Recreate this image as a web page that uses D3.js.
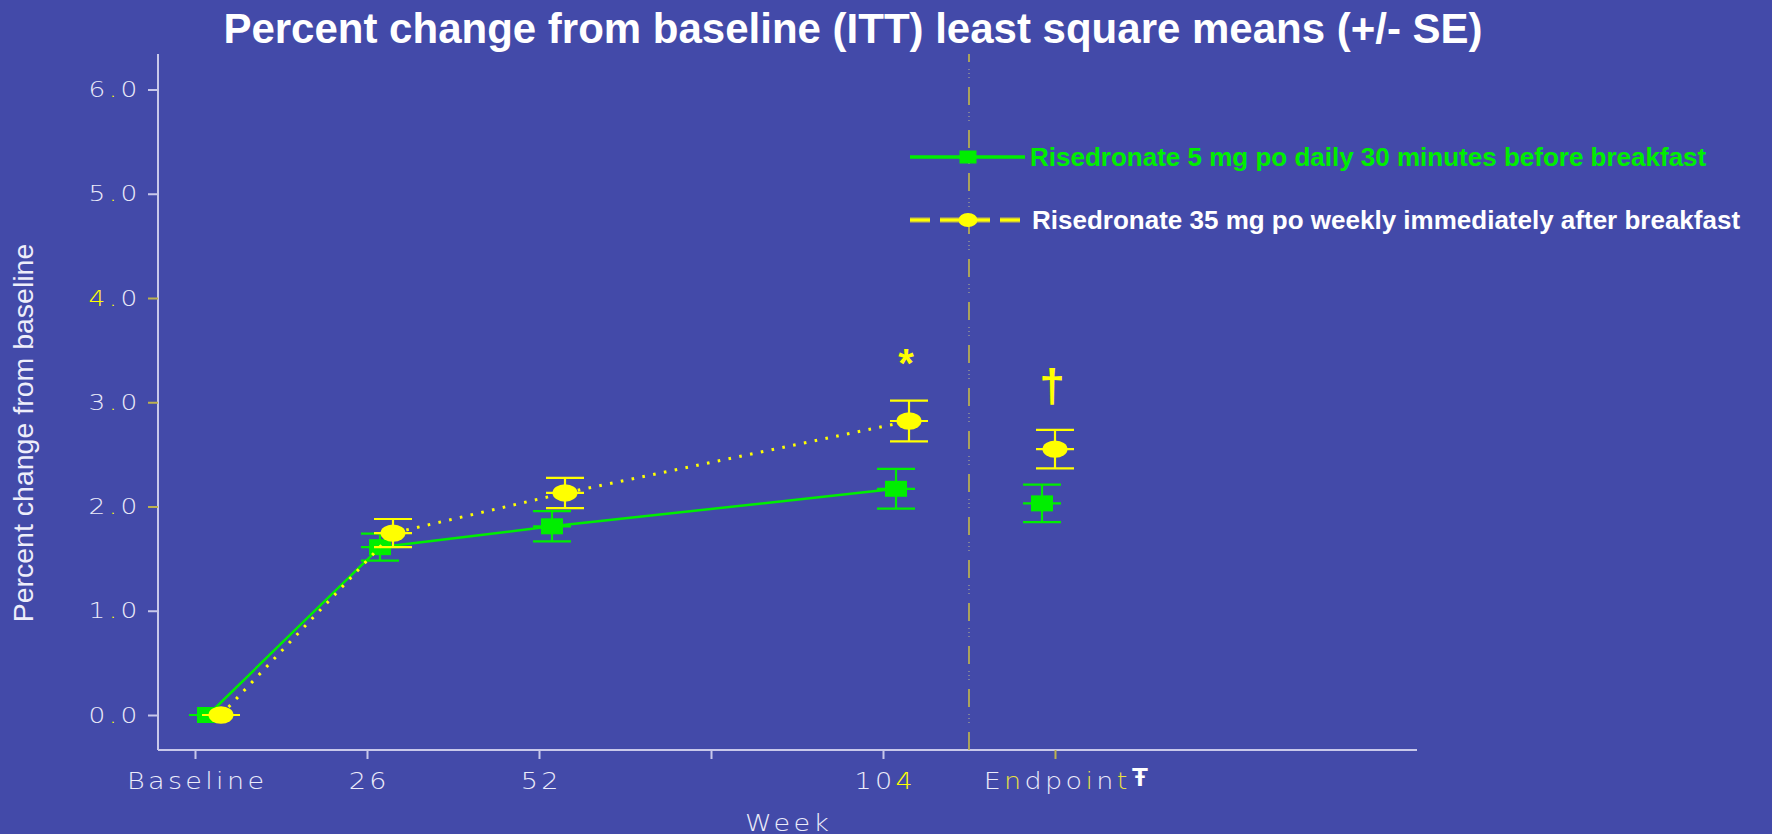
<!DOCTYPE html>
<html>
<head>
<meta charset="utf-8">
<script src="https://cdn.jsdelivr.net/npm/d3@7"></script>
<style>
  html, body { margin: 0; padding: 0; background: #434aa9; }
  svg { display: block; }
</style>
</head>
<body>
<svg id="chart" width="1772" height="834"></svg>
<script>
// ---------------- data ----------------
const weeks = [0, 26, 52, 104, 130];
const xTickValues = [0, 26, 52, 78, 104, 130];
const xTickLabels = ["Baseline", "26", "52", "", "104", "Endpoint"];
const yTickValues = [0, 1, 2, 3, 4, 5, 6];
const yTickLabels = ["0.0", "1.0", "2.0", "3.0", "4.0", "5.0", "6.0"];
const dailyMeans = [0, 1.61, 1.81, 2.17, 2.03];
const dailySE = [0, 0.13, 0.145, 0.19, 0.18];
const weeklyMeans = [0, 1.745, 2.13, 2.82, 2.55];
const weeklySE = [0, 0.135, 0.145, 0.195, 0.185];
const endpointDivider = 117;
const seriesNames = [
  "Risedronate 5 mg po daily 30 minutes before breakfast",
  "Risedronate 35 mg po weekly immediately after breakfast"
];
const titleText = "Percent change from baseline (ITT) least square means (+/- SE)";
const yAxisTitle = "Percent change from baseline";
const xAxisTitle = "Week";
const endpointNote = "Ŧ";

// ---------------- styles ----------------
const BG = "#434aa9";
const GREEN = "#00ee00";
const YELLOW = "#ffff00";
const AXIS = "#c8c8ea";
const OLIVE = "#bdb24e";
const TICKTXT = "#ececfa";
const thinFont = "'DejaVu Sans', sans-serif";
const boldFont = "'Liberation Sans', Arial, sans-serif";
const xS = 1.15, xLS = 2.9;   // horizontal stretch + letter spacing, x labels
const yS = 1.2, yLS = 2.9;    // same for y labels

const svg = d3.select("#chart");
svg.append("rect").attr("width", 1772).attr("height", 834).attr("fill", BG);

const x = d3.scaleLinear().domain([0, 130]).range([195, 1055]);
const y = d3.scaleLinear().domain([0, 6]).range([715, 89.5]);
const plotLeft = 158, plotRight = 1417, plotTop = 54, plotBottom = 750;

// title
svg.append("text")
  .attr("x", 853).attr("y", 43)
  .attr("text-anchor", "middle")
  .attr("font-family", boldFont).attr("font-weight", "bold")
  .attr("font-size", 42).attr("fill", "#ffffff")
  .text(titleText);

// y axis title
svg.append("text")
  .attr("transform", "translate(33,433) rotate(-90)")
  .attr("text-anchor", "middle")
  .attr("font-family", boldFont)
  .attr("font-size", 28.5).attr("fill", "#eeeefa")
  .text(yAxisTitle);

// x axis title
svg.append("text")
  .attr("transform", `translate(787,831) scale(${xS},1)`)
  .attr("dx", xLS / 2)
  .attr("text-anchor", "middle")
  .attr("font-family", thinFont).attr("font-weight", 200)
  .attr("font-size", 23.5).attr("letter-spacing", xLS)
  .attr("fill", TICKTXT)
  .text(xAxisTitle);

// colour rule for odd yellow characters in tick labels
function charColor(label, i) {
  const c = label[i];
  if (c === ".") return YELLOW;
  if (c === "4") return YELLOW;
  if (label === "Endpoint" && (i === 1 || i === 5 || i === 7)) return "#e8e040";
  return TICKTXT;
}
function fillLabel(sel, label) {
  sel.text(null);
  label.split("").forEach((c, i) => {
    sel.append("tspan").attr("fill", charColor(label, i)).text(c);
  });
}

// y axis
const yAxisG = svg.append("g").attr("transform", `translate(${plotLeft},0)`)
  .call(d3.axisLeft(y).tickValues(yTickValues).tickSize(10).tickPadding(4)
    .tickFormat((d, i) => yTickLabels[i]));
yAxisG.select(".domain").attr("d", `M0,${plotTop}V${plotBottom}`).attr("stroke", AXIS).attr("stroke-width", 2);
yAxisG.selectAll(".tick line").attr("stroke", d => (d >= 2 && d <= 4) ? OLIVE : AXIS).attr("stroke-width", 2);
yAxisG.selectAll(".tick text")
  .attr("x", 0)
  .attr("transform", `translate(-17.2,0) scale(${yS},1)`)
  .attr("font-family", thinFont).attr("font-weight", 200)
  .attr("font-size", 22).attr("letter-spacing", yLS)
  .each(function(d, i) { fillLabel(d3.select(this), yTickLabels[i]); });

// x axis
const xAxisG = svg.append("g").attr("transform", `translate(0,${plotBottom})`)
  .call(d3.axisBottom(x).tickValues(xTickValues).tickSize(9).tickPadding(13)
    .tickFormat((d, i) => xTickLabels[i]));
xAxisG.select(".domain").attr("d", `M${plotLeft},0H${plotRight}`).attr("stroke", AXIS).attr("stroke-width", 2);
xAxisG.selectAll(".tick line").attr("stroke", d => d === 130 ? OLIVE : AXIS).attr("stroke-width", 2);
xAxisG.selectAll(".tick text")
  .attr("transform", `scale(${xS},1)`)
  .attr("font-family", thinFont).attr("font-weight", 200)
  .attr("font-size", 23.5).attr("letter-spacing", xLS)
  .attr("dx", xLS / 2)
  .each(function(d, i) { fillLabel(d3.select(this), xTickLabels[i]); });
// footnote mark after Endpoint
svg.append("text").attr("x", x(130) + 77).attr("y", 786)
  .attr("font-family", boldFont).attr("font-weight", "bold")
  .attr("font-size", 26).attr("fill", "#ffffff").text(endpointNote);

// divider between 104 and endpoint
svg.append("line")
  .attr("x1", x(endpointDivider)).attr("x2", x(endpointDivider))
  .attr("y1", plotTop).attr("y2", plotBottom)
  .attr("stroke", OLIVE).attr("stroke-width", 1.7)
  .attr("stroke-dasharray", "18,25").attr("stroke-dashoffset", 10);
svg.append("line")
  .attr("x1", x(endpointDivider)).attr("x2", x(endpointDivider))
  .attr("y1", plotTop).attr("y2", plotBottom)
  .attr("stroke", "#a8a890").attr("stroke-width", 1.2)
  .attr("stroke-dasharray", "1,3,1,3,1,34").attr("stroke-dashoffset", -15);

// series
const series = [
  { means: dailyMeans, se: dailySE, color: GREEN, shape: "square", dash: null, dodge: (i) => i === weeks.length - 1 ? -13 : 13 },
  { means: weeklyMeans, se: weeklySE, color: YELLOW, shape: "circle", dash: "2.6,8.4", dodge: (i) => i === weeks.length - 1 ? 0 : 26 }
];

series.forEach(s => {
  const pts = weeks.map((w, i) => ({ px: x(w) + s.dodge(i), m: s.means[i], se: s.se[i] }));
  // connecting line (weeks up to 104)
  const line = d3.line().x(d => d.px).y(d => y(d.m));
  svg.append("path").datum(pts.slice(0, 4))
    .attr("d", line).attr("fill", "none")
    .attr("stroke", s.color).attr("stroke-width", s.dash ? 3 : 2.5)
    .attr("stroke-dasharray", s.dash);
  const g = svg.append("g");
  pts.forEach(p => {
    const eg = g.append("g").attr("stroke", s.color).attr("stroke-width", 2.2);
    eg.append("line").attr("x1", p.px).attr("x2", p.px).attr("y1", y(p.m - p.se)).attr("y2", y(p.m + p.se));
    [p.m - p.se, p.m, p.m + p.se].forEach(v => {
      eg.append("line").attr("x1", p.px - 19).attr("x2", p.px + 19).attr("y1", y(v)).attr("y2", y(v));
    });
    if (s.shape === "square") {
      g.append("rect").attr("x", p.px - 11).attr("y", y(p.m) - 8).attr("width", 22).attr("height", 16).attr("fill", s.color);
    } else {
      g.append("ellipse").attr("cx", p.px).attr("cy", y(p.m)).attr("rx", 12.5).attr("ry", 8.7).attr("fill", s.color);
    }
  });
});

// significance marks
svg.append("text").attr("x", x(104) + 23).attr("y", 377)
  .attr("text-anchor", "middle").attr("font-family", boldFont).attr("font-weight", "bold")
  .attr("font-size", 40).attr("fill", YELLOW).text("*");
svg.append("text").attr("x", x(130) - 3).attr("y", 402)
  .attr("text-anchor", "middle").attr("font-family", boldFont).attr("font-weight", "bold")
  .attr("font-size", 46).attr("fill", YELLOW).text("†");

// legend
const lx0 = 910, lx1 = 1025, lmx = 968;
const leg = svg.append("g");
// green entry
leg.append("line").attr("x1", lx0).attr("x2", lx1).attr("y1", 157).attr("y2", 157)
  .attr("stroke", GREEN).attr("stroke-width", 3.5);
leg.append("rect").attr("x", lmx - 8.5).attr("y", 157 - 6.5).attr("width", 17).attr("height", 13).attr("fill", GREEN);
leg.append("text").attr("x", 1030).attr("y", 166)
  .attr("font-family", boldFont).attr("font-weight", "bold").attr("font-size", 26)
  .attr("fill", GREEN).text(seriesNames[0]);
// yellow entry
leg.append("line").attr("x1", lx0).attr("x2", lx1).attr("y1", 220).attr("y2", 220)
  .attr("stroke", "#c8c040").attr("stroke-width", 5).attr("stroke-dasharray", "20,10");
leg.append("line").attr("x1", lx0).attr("x2", lx1).attr("y1", 220).attr("y2", 220)
  .attr("stroke", YELLOW).attr("stroke-width", 2.5).attr("stroke-dasharray", "20,10");
leg.append("ellipse").attr("cx", lmx).attr("cy", 220).attr("rx", 9.5).attr("ry", 7).attr("fill", YELLOW);
leg.append("text").attr("x", 1032).attr("y", 229)
  .attr("font-family", boldFont).attr("font-weight", "bold").attr("font-size", 26)
  .attr("fill", "#ffffff").text(seriesNames[1]);
</script>
</body>
</html>
